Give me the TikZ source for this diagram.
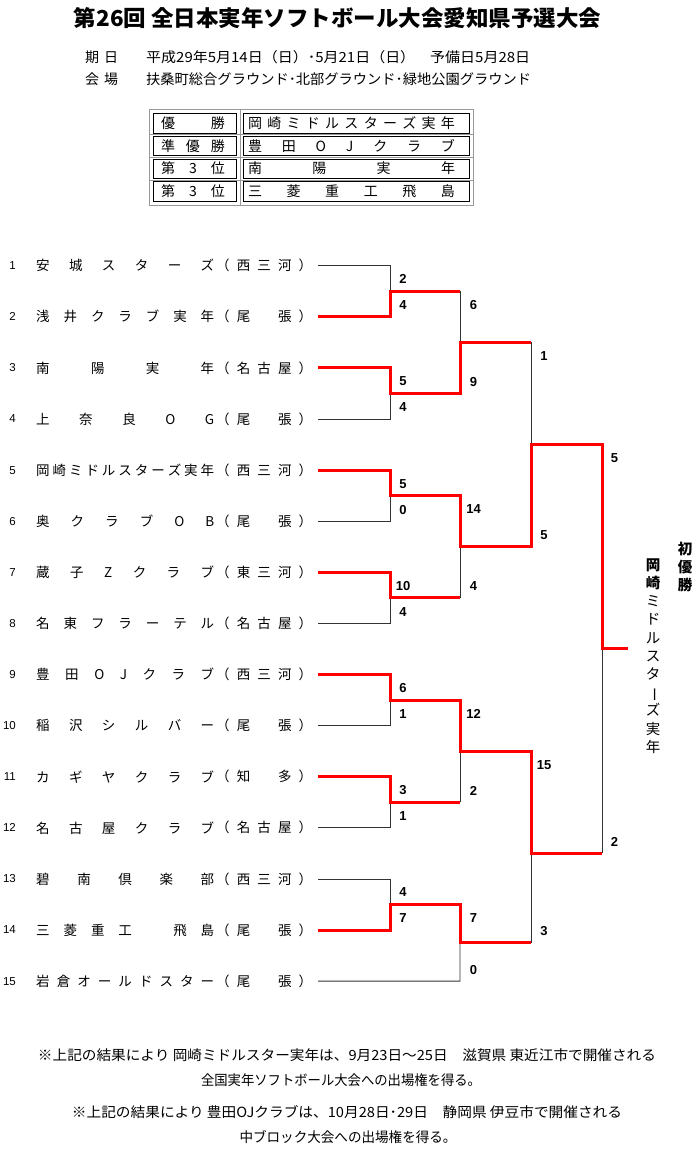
\documentclass[tikz,border=0pt]{standalone}
\usepackage{fontspec}
\usepackage{graphicx}
\usetikzlibrary{calc}
\setmainfont{Noto Sans CJK JP}
\newfontfamily\latf{Liberation Sans}
\makeatletter
\def\dst@a#1#2\@nil{#1\ifx\relax#2\relax\else\hfill\dst@a#2\@nil\fi}
\newcommand\dst[2]{\hbox to #1{\expandafter\dst@a#2\@nil}}
\makeatother
\begin{document}
\begin{tikzpicture}[x=1pt,y=-1pt,
  bk/.style={draw=black!80, line width=0.8pt},
  rd/.style={draw=red, line width=3pt},
  sc/.style={font=\latf\bfseries\fontsize{13}{13}\selectfont, inner sep=0pt},
  idx/.style={font=\latf\fontsize{11.5}{12}\selectfont, inner sep=0pt, anchor=east},
  tm/.style={font=\fontsize{13.5}{14}\selectfont, inner sep=0pt, anchor=west},
  hd/.style={font=\fontsize{14}{14}\selectfont, inner sep=0pt, anchor=west},
  fn/.style={font=\fontsize{14}{14}\selectfont, inner sep=0pt},
  cl/.style={draw=black, line width=0.7pt, minimum width=83pt, minimum height=19.5pt, inner sep=0pt, font=\fontsize{14}{14}\selectfont},
  cr/.style={cl, minimum width=226pt},
  gry/.style={draw=gray!80, line width=0.7pt}]
\fill[white] (0,0) rectangle (700,1162);
\useasboundingbox (0,0) rectangle (700,1162);

% title and header
\node[inner sep=0pt] (title) at (337.5,18) {\resizebox{527pt}{\height}{\bfseries\fontsize{22}{22}\selectfont 第26回 全日本実年ソフトボール大会愛知県予選大会}};
\node[hd] (h1a) at (85,57) {\dst{33pt}{期日}};
\node[hd] (h1b) at (146,57) {\resizebox{384pt}{\height}{平成29年5月14日（日）･5月21日（日）　予備日5月28日}};
\node[hd] (h2a) at (85,79) {\dst{33pt}{会場}};
\node[hd] (h2b) at (146,79) {\resizebox{385pt}{\height}{扶桑町総合グラウンド･北部グラウンド･緑地公園グラウンド}};

% results table
\node[gry, minimum width=324pt, minimum height=96pt, inner sep=0pt] (frame) at (311.5,157) {};
\draw[gry] (240,109) -- (240,205);
\draw[gry] (149.5,134.55) -- (473.5,134.55);
\draw[gry] (149.5,157.25) -- (473.5,157.25);
\draw[gry] (149.5,179.95) -- (473.5,179.95);
\node[cl] (c1l) at (195,123.2) {\makebox[68pt][l]{\dst{64pt}{優勝}}};
\node[cr] (c1r) at (356.5,123.2) {\makebox[217pt][l]{\dst{207pt}{岡崎ミドルスターズ実年}}};
\node[cl] (c2l) at (195,145.9) {\makebox[68pt][l]{\dst{64pt}{準優勝}}};
\node[cr] (c2r) at (356.5,145.9) {\makebox[217pt][l]{\dst{207pt}{豊田OJクラブ}}};
\node[cl] (c3l) at (195,168.6) {\makebox[68pt][l]{\dst{64pt}{第3位}}};
\node[cr] (c3r) at (356.5,168.6) {\makebox[217pt][l]{\dst{207pt}{南陽実年}}};
\node[cl] (c4l) at (195,191.3) {\makebox[68pt][l]{\dst{64pt}{第3位}}};
\node[cr] (c4r) at (356.5,191.3) {\makebox[217pt][l]{\dst{207pt}{三菱重工飛島}}};

% teams
\foreach \i/\nm/\rg in {1/安城スターズ/（西三河）,2/浅井クラブ実年/（尾　張）,3/南陽実年/（名古屋）,4/上奈良OG/（尾　張）,5/岡崎ミドルスターズ実年/（西三河）,6/奥クラブOB/（尾　張）,7/蔵子Zクラブ/（東三河）,8/名東フラーテル/（名古屋）,9/豊田OJクラブ/（西三河）,10/稲沢シルバー/（尾　張）,11/カギヤクラブ/（知　多）,12/名古屋クラブ/（名古屋）,13/碧南倶楽部/（西三河）,14/三菱重工　飛島/（尾　張）,15/岩倉オールドスター/（尾　張）}{
  \pgfmathsetmacro\yy{265.7+(\i-1)*51.1}
  \coordinate (t\i) at (318,\yy);
  \coordinate (e\i) at (390,\yy);
  \node[idx] (n\i) at (16,\yy) {\i};
  \node[tm] (nm\i) at (36,\yy) {\dst{178pt}{\nm}};
  \node[tm] (rg\i) at (216,\yy) {\dst{96pt}{\rg}};
}
\coordinate (e15) at (460,981.1);

% bracket junctions
\coordinate (m1) at ($(e1)!0.5!(e2)$);
\coordinate (m2) at ($(e3)!0.5!(e4)$);
\coordinate (m3) at ($(e5)!0.5!(e6)$);
\coordinate (m4) at ($(e7)!0.5!(e8)$);
\coordinate (m5) at ($(e9)!0.5!(e10)$);
\coordinate (m6) at ($(e11)!0.5!(e12)$);
\coordinate (m7) at ($(e13)!0.5!(e14)$);
\foreach \k in {1,...,7}{\coordinate (mr\k) at ($(m\k)+(70,0)$);}
\coordinate (q1) at ($(mr1)!0.5!(mr2)$);
\coordinate (q2) at ($(mr3)!0.5!(mr4)$);
\coordinate (q3) at ($(mr5)!0.5!(mr6)$);
\coordinate (q4) at ($(mr7)!0.5!(e15)$);
\foreach \k in {1,...,4}{\coordinate (qr\k) at ($(q\k)+(71,0)$);}
\coordinate (s1) at ($(qr1)!0.5!(qr2)$);
\coordinate (s2) at (531,853);
\coordinate (sr1) at ($(s1)+(71,0)$);
\coordinate (sr2) at ($(s2)+(71,0)$);
\coordinate (f) at ($(sr1)!0.5!(sr2)$);
\coordinate (fr) at ($(f)+(26,0)$);

% losing lines
\draw[bk] (t1) -- (e1) -- (m1);
\draw[bk] (t4) -- (e4) -- (m2);
\draw[bk] (t6) -- (e6) -- (m3);
\draw[bk] (t8) -- (e8) -- (m4);
\draw[bk] (t10) -- (e10) -- (m5);
\draw[bk] (t12) -- (e12) -- (m6);
\draw[bk] (t13) -- (e13) -- (m7);
\draw[bk] (t15) -- (e15) -- (q4);
\draw[bk] (mr1) -- (q1);
\draw[bk] (mr4) -- (q2);
\draw[bk] (mr6) -- (q3);
\draw[bk] (qr1) -- (s1);
\draw[bk] (qr4) -- (s2);
\draw[bk] (sr2) -- (f);

% winning lines
\draw[rd] (t2) -- (e2) -- (m1) -- (mr1);
\draw[rd] (t3) -- (e3) -- (m2) -- (mr2) -- (q1) -- (qr1);
\draw[rd] (t5) -- (e5) -- (m3) -- (mr3) -- (q2) -- (qr2) -- (s1) -- (sr1) -- (f) -- (fr);
\draw[rd] (t7) -- (e7) -- (m4) -- (mr4);
\draw[rd] (t9) -- (e9) -- (m5) -- (mr5) -- (q3) -- (qr3) -- (s2) -- (sr2);
\draw[rd] (t11) -- (e11) -- (m6) -- (mr6);
\draw[rd] (t14) -- (e14) -- (m7) -- (mr7) -- (q4) -- (qr4);

% scores
\node[sc] (a1) at ($(e1)+(13,13.5)$) {2};
\node[sc] (a2) at ($(e2)+(13,-11.5)$) {4};
\node[sc] (a3) at ($(e3)+(13,13.5)$) {5};
\node[sc] (a4) at ($(e4)+(13,-11.5)$) {4};
\node[sc] (a5) at ($(e5)+(13,13.5)$) {5};
\node[sc] (a6) at ($(e6)+(13,-11.5)$) {0};
\node[sc] (a7) at ($(e7)+(13,13.5)$) {10};
\node[sc] (a8) at ($(e8)+(13,-11.5)$) {4};
\node[sc] (a9) at ($(e9)+(13,13.5)$) {6};
\node[sc] (a10) at ($(e10)+(13,-11.5)$) {1};
\node[sc] (a11) at ($(e11)+(13,13.5)$) {3};
\node[sc] (a12) at ($(e12)+(13,-11.5)$) {1};
\node[sc] (a13) at ($(e13)+(13,13.5)$) {4};
\node[sc] (a14) at ($(e14)+(13,-11.5)$) {7};
\node[sc] (b1) at ($(mr1)+(13.5,13.5)$) {6};
\node[sc] (b2) at ($(mr2)+(13.5,-11.5)$) {9};
\node[sc] (b3) at ($(mr3)+(13.5,13.5)$) {14};
\node[sc] (b4) at ($(mr4)+(13.5,-11.5)$) {4};
\node[sc] (b5) at ($(mr5)+(13.5,13.5)$) {12};
\node[sc] (b6) at ($(mr6)+(13.5,-11.5)$) {2};
\node[sc] (b7) at ($(mr7)+(13.5,13.5)$) {7};
\node[sc] (b8) at ($(e15)+(13.5,-11.5)$) {0};
\node[sc] (c1) at ($(qr1)+(13,13.5)$) {1};
\node[sc] (c2) at ($(qr2)+(13,-11.5)$) {5};
\node[sc] (c3) at ($(qr3)+(13,13.5)$) {15};
\node[sc] (c4) at ($(qr4)+(13,-11.5)$) {3};
\node[sc] (d1) at ($(sr1)+(12.5,13.5)$) {5};
\node[sc] (d2) at ($(sr2)+(12.5,-11.5)$) {2};

% champion
\node[inner sep=0pt, align=center, font=\bfseries\fontsize{14.5}{18}\selectfont] (champ) at (685,567) {初\\優\\勝};
\node[inner sep=0pt, align=center, font=\fontsize{14.5}{18.2}\selectfont] (wname) at (653,656) {{\bfseries 岡}\\{\bfseries 崎}\\ミ\\ド\\ル\\ス\\タ\\\rotatebox[origin=c]{-90}{ー}\\ズ\\実\\年};

% notes
\node[fn] (fn1) at (347,1055) {\resizebox{618pt}{\height}{※上記の結果により 岡崎ミドルスター実年は、9月23日～25日　滋賀県 東近江市で開催される}};
\node[fn] (fn2) at (341,1080) {\resizebox{280pt}{\height}{全国実年ソフトボール大会への出場権を得る。}};
\node[fn] (fn3) at (347,1112) {\resizebox{550pt}{\height}{※上記の結果により 豊田OJクラブは、10月28日･29日　静岡県 伊豆市で開催される}};
\node[fn] (fn4) at (348,1137) {\resizebox{217pt}{\height}{中ブロック大会への出場権を得る。}};
\end{tikzpicture}
\end{document}
